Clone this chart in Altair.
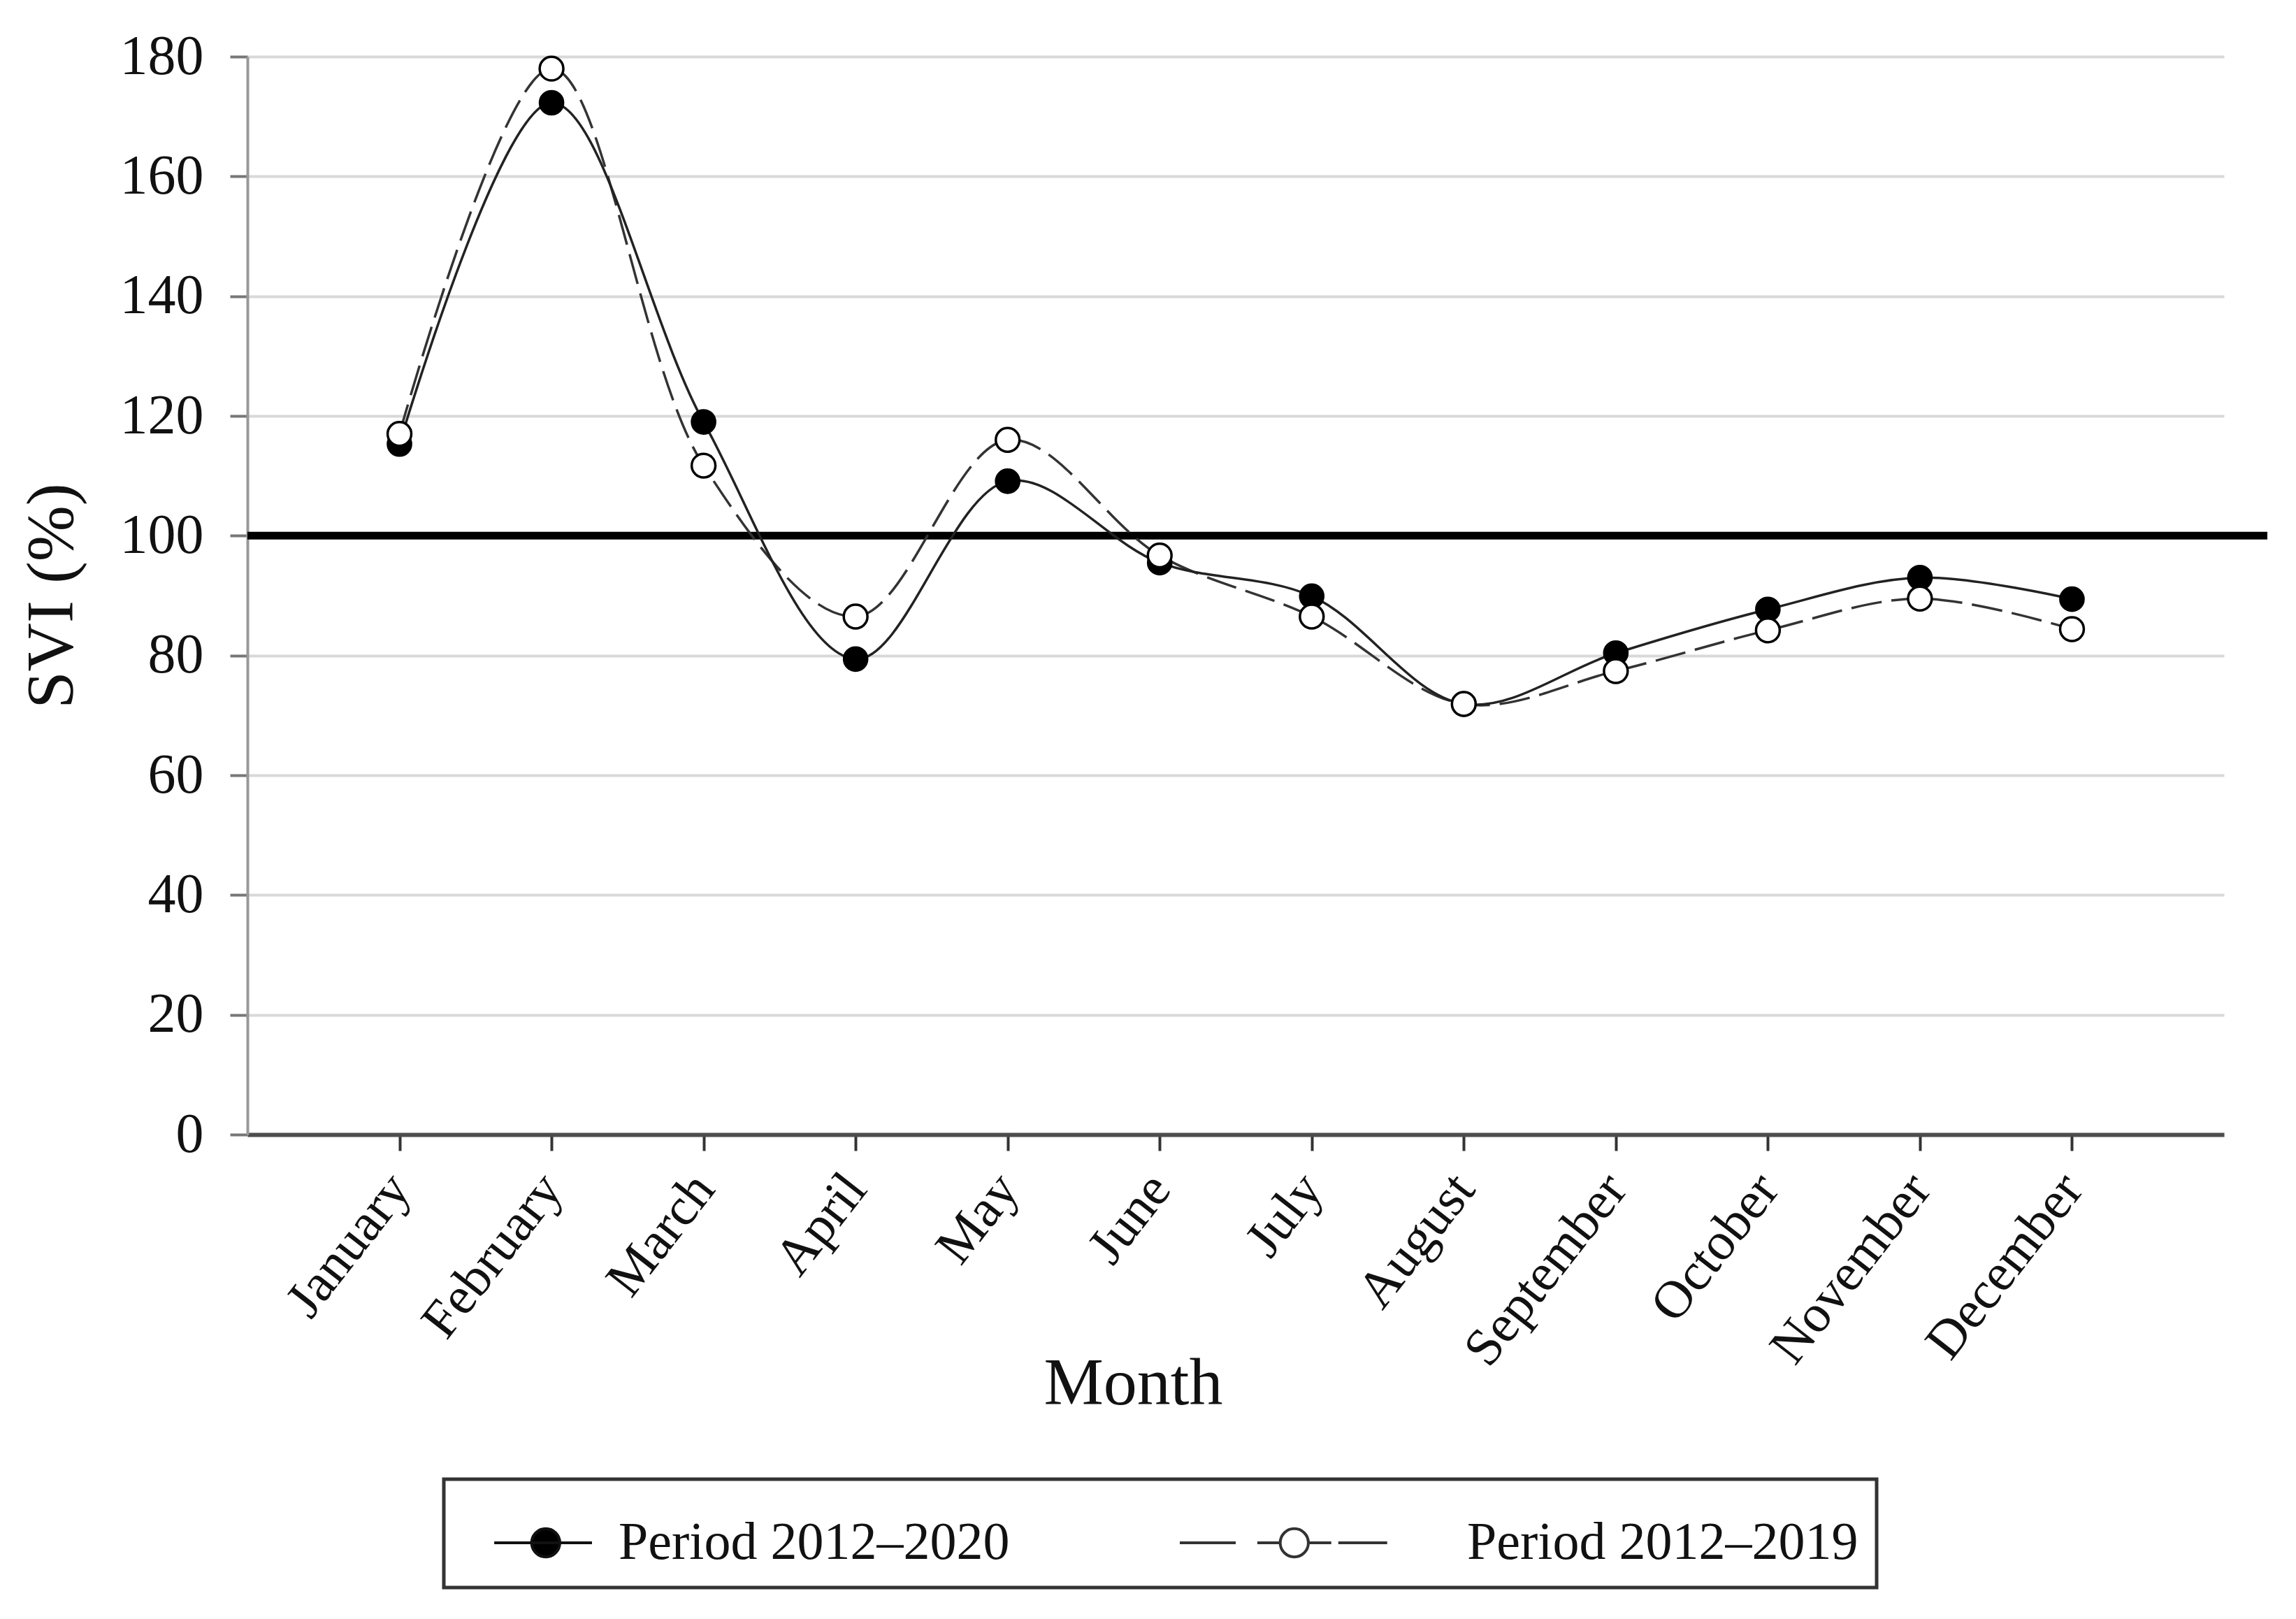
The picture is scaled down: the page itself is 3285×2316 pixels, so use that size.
import altair as alt
import pandas as pd

months = ["January", "February", "March", "April", "May", "June", "July",
          "August", "September", "October", "November", "December"]
svi_2012_2020 = [115.3, 172.3, 119.0, 79.4, 109.1, 95.5, 89.9, 71.9, 80.4, 87.7, 93.0, 89.4]
svi_2012_2019 = [117.0, 178.0, 111.7, 86.5, 116.0, 96.7, 86.5, 71.9, 77.4, 84.2, 89.5, 84.4]
series_names = ["Period 2012\u20132020", "Period 2012\u20132019"]
y_ticks = [0, 20, 40, 60, 80, 100, 120, 140, 160, 180]
reference_level = 100

rows = []
for m, v in zip(months, svi_2012_2020):
    rows.append({"month": m, "svi": v, "series": series_names[0]})
for m, v in zip(months, svi_2012_2019):
    rows.append({"month": m, "svi": v, "series": series_names[1]})
df = pd.DataFrame(rows)

SERIF = "Liberation Serif"
W, H = 2828, 1542

x_enc = alt.X(
    "month:N", sort=months,
    scale=alt.Scale(type="point", padding=1),
    axis=alt.Axis(
        title="Month", labelAngle=-52, labelFont=SERIF, labelFontSize=76,
        labelColor="#111", labelPadding=42, labelLimit=2000, tickSize=23, tickWidth=4,
        tickColor="#333", domainColor="#4d4d4d", domainWidth=6, grid=False,
        titleFont=SERIF, titleFontSize=96, titleFontWeight="normal",
        titleColor="#111", titleX=1267, titleY=356, titleBaseline="middle",
        titleAlign="center",
    ),
)
y_enc = alt.Y(
    "svi:Q",
    scale=alt.Scale(domain=[0, 180], nice=False),
    axis=alt.Axis(
        title="SVI (%)", values=y_ticks, labelFont=SERIF, labelFontSize=80,
        labelColor="#111", labelPadding=38, tickSize=25, tickWidth=4,
        tickColor="#777", domainColor="#999", domainWidth=4, grid=True,
        gridColor="#d9d9d9", gridWidth=4, titleFont=SERIF, titleFontSize=96,
        titleFontWeight="normal", titleColor="#111", titlePadding=48,
    ),
)

base = alt.Chart(df).encode(x=x_enc, y=y_enc)

ref_rule = alt.Chart(pd.DataFrame({"level": [reference_level]})).mark_rule(
    color="black", strokeWidth=11
).encode(y=alt.Y("level:Q"), x=alt.value(0), x2=alt.value(W + 62))

line_2019 = base.transform_filter(
    alt.datum.series == series_names[1]
).mark_line(interpolate="catmull-rom", strokeDash=[44, 14], color="#333", strokeWidth=3.5)

line_2020 = base.transform_filter(
    alt.datum.series == series_names[0]
).mark_line(interpolate="catmull-rom", color="#222", strokeWidth=3.5)

pts_2020 = base.transform_filter(
    alt.datum.series == series_names[0]
).mark_point(shape="circle", filled=True, fill="black", stroke="black",
             strokeWidth=2, size=1200, opacity=1)

pts_2019 = base.transform_filter(
    alt.datum.series == series_names[1]
).mark_point(shape="circle", filled=True, fill="white", stroke="black",
             strokeWidth=3.5, size=1150, opacity=1)

path_solid = ("M -0.3 0 L 1.92 0 "
              "M 1.19 0 A 0.32 0.32 0 1 1 0.55 0 A 0.32 0.32 0 1 1 1.19 0 Z")
path_dashed = ("M -4.0 0 L -2.73 0 M -2.24 0 L -1.72 0 M -1.08 0 L -0.56 0 M -0.4 0 L 0.71 0 "
               "M -1.08 0 A 0.32 0.32 0 1 1 -1.72 0 A 0.32 0.32 0 1 1 -1.08 0 Z")

legend_def = alt.Legend(
    title=None, orient="none", legendX=281, legendY=2035, direction="horizontal",
    columns=2, columnPadding=235, padding=26, labelOffset=94, symbolSize=15876,
    labelFont=SERIF, labelFontSize=76, labelColor="#111", labelLimit=2000,
    symbolStrokeWidth=4, symbolOpacity=1,
    strokeColor="#333",
)

# legend-only layer: no rows drawn, the legend comes from the explicit scale domains
legend_layer = base.transform_filter("false").mark_point(
    strokeWidth=4, filled=False
).encode(
    shape=alt.Shape("series:N", scale=alt.Scale(domain=series_names,
                                                range=[path_solid, path_dashed]),
                    legend=legend_def),
    fill=alt.Fill("series:N", scale=alt.Scale(domain=series_names,
                                              range=["black", "white"]),
                  legend=legend_def),
    stroke=alt.Stroke("series:N", scale=alt.Scale(domain=series_names,
                                                  range=["#111", "#333"]),
                      legend=legend_def),
)

chart = alt.layer(
    ref_rule, line_2019, line_2020, pts_2020, pts_2019, legend_layer
).properties(
    width=W, height=H,
    autosize=alt.AutoSizeParams(type="none"),
    padding={"left": 346, "top": 73, "right": 80, "bottom": 675},
    background="white",
).configure_view(stroke=None).configure_legend(strokeWidth=5)

chart.save("out.html", embed_options={"renderer": "svg", "actions": False})
